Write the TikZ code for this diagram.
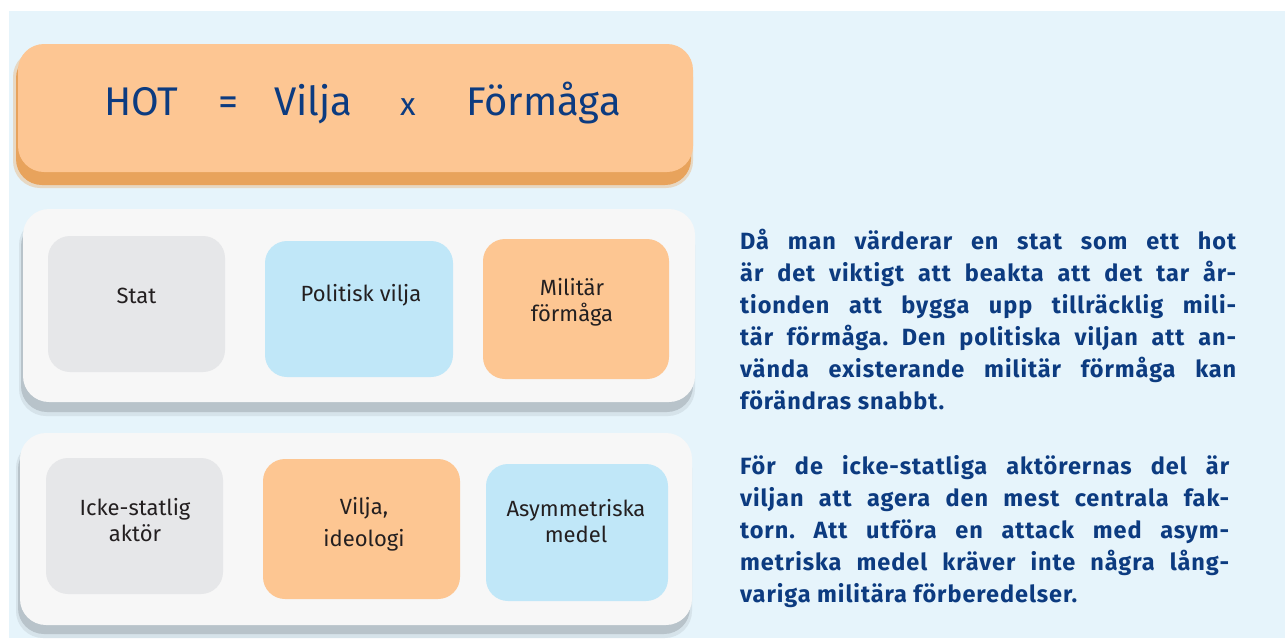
\documentclass[tikz,border=0pt]{standalone}
\usepackage{fontspec}
\setmainfont{Fira Sans}
\definecolor{bgblue}{HTML}{E6F4FB}
\definecolor{hotorange}{HTML}{FDC693}
\definecolor{hotshadow}{HTML}{E8A35C}
\definecolor{panelgray}{HTML}{F7F7F7}
\definecolor{panelshadow}{HTML}{B8C3CA}
\definecolor{cardgray}{HTML}{E6E7E9}
\definecolor{cardblue}{HTML}{C0E7F8}
\definecolor{cardorange}{HTML}{FDC692}
\definecolor{navy}{HTML}{0C3B80}
\definecolor{inkgray}{HTML}{231F20}
\frenchspacing
\begin{document}
\begin{tikzpicture}[x=1pt, y=-1pt,
    panel/.style={fill=panelgray, rounded corners=26pt},
    card/.style={shape=rectangle, rounded corners=22pt, inner sep=0pt},
    cardtext/.style={font=\fontsize{22}{26}\selectfont, text=inkgray, align=center, inner sep=0pt},
    eqtext/.style={font=\fontsize{40}{48}\selectfont, text=navy, anchor=base, inner sep=0pt},
    bodytext/.style={font=\fontsize{23.5}{32}\selectfont\bfseries\addfontfeature{LetterSpace=4}, text=navy,
        anchor=base west, inner sep=0pt, align=justify}]
            \useasboundingbox (0,0) rectangle (1285,638);
            \fill[white] (0,0) rectangle (1285,638);
            \fill[bgblue] (9,11) rectangle (1285,638);

            % HOT = Vilja x Formaga
            \fill[hotshadow!35!bgblue, rounded corners=27pt] (13,50) rectangle (693,188);
            \fill[hotshadow, rounded corners=26pt] (16,52) rectangle (691,185);
            \fill[hotorange, rounded corners=26pt] (18,44) rectangle (693,172);
            \node (hot) at (141.5,115) [eqtext] {HOT};
            \node (eq) at (228,115) [eqtext] {=};
            \node (vilja) at (313.5,115) [eqtext] {Vilja};
            \node (times) at (408,115) [eqtext, font=\fontsize{32}{38}\selectfont] {x};
            \node (formaga) at (543.5,115) [eqtext] {Förmåga};

            % stat
            \fill[panelshadow!35!bgblue, rounded corners=27pt] (19,218) rectangle (695,416);
            \fill[panelshadow, rounded corners=26pt] (21,220) rectangle (693,412);
            \fill[panel] (23,209) rectangle (695,402);
            \node (stat) at (136.5,304) [card, fill=cardgray, minimum width=177pt, minimum height=136pt] {};
            \node (pol) at (359,309) [card, fill=cardblue, minimum width=188pt, minimum height=136pt] {};
            \node (mil) at (576,309) [card, fill=cardorange, minimum width=186pt, minimum height=140pt] {};
            \node (stattxt) at (136.5,303) [cardtext, anchor=base] {Stat};
            \node (poltxt) at (361,301) [cardtext, anchor=base] {Politisk vilja};
            \node (miltxt) at (572,302) [cardtext] {Militär\\förmåga};

            % icke-statlig aktor
            \fill[panelshadow!35!bgblue, rounded corners=27pt] (16,441) rectangle (692,638);
            \fill[panelshadow, rounded corners=26pt] (18,443) rectangle (690,634);
            \fill[panel] (20,433) rectangle (692,625);
            \node (icke) at (134.5,526) [card, fill=cardgray, minimum width=177pt, minimum height=136pt] {};
            \node (ideo) at (361.5,529) [card, fill=cardorange, minimum width=197pt, minimum height=140pt] {};
            \node (asym) at (577,532.5) [card, fill=cardblue, minimum width=182pt, minimum height=137pt] {};
            \node (icketxt) at (135,520) [cardtext] {Icke-statlig\\aktör};
            \node (ideotxt) at (364,524) [cardtext, font=\fontsize{22}{32}\selectfont] {Vilja,\\ideologi};
            \node (asymtxt) at (576,521) [cardtext] {Asymmetriska\\medel};

            % text
            \node (stattext) at (740,249) [bodytext, text width=496pt] {Då man värderar en stat som ett hot\linebreak
                är det viktigt att beakta att det tar år-\linebreak
                tionden att bygga upp tillräcklig mili-\linebreak
                tär förmåga. Den politiska viljan att an-\linebreak
                vända existerande militär förmåga kan\linebreak
                förändras snabbt.};
            \node (ickertext) at (740,474) [bodytext, text width=489pt] {För de icke-statliga aktörernas del är\linebreak
                viljan att agera den mest centrala fak-\linebreak
                torn. Att utföra en attack med asym-\linebreak
                metriska medel kräver inte några lång-\linebreak
                variga militära förberedelser.};

        \end{tikzpicture}
\end{document}
